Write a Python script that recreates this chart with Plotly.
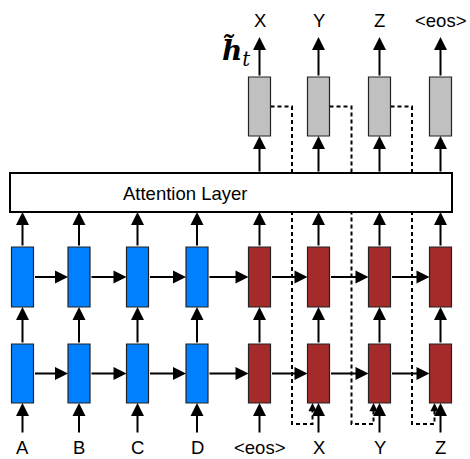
import plotly.graph_objects as go

# ---- data (labels) ----
encoder_inputs = ["A", "B", "C", "D"]
decoder_inputs = ["<eos>", "X", "Y", "Z"]
decoder_outputs = ["X", "Y", "Z", "<eos>"]
attention_label = "Attention Layer"
state_label = "<b><i>h̃</i></b><i><sub>t</sub></i>"

# ---- layout constants ----
W, H = 470, 459
enc_x = [22.5, 79, 137.5, 197]
dec_x = [259.5, 318.5, 379.5, 440.5]
box_w = 22
top_row = (247, 307)
bot_row = (344, 403)
gray_row = (77, 136)
att_box = (10, 173, 452, 212)
BLUE = "#0080FF"
RED = "#A52A2A"
GRAY = "#C0C0C0"

shapes = []
annotations = []


def arrow(x0, y0, x1, y1, width=2, size=1.3):
    annotations.append(dict(x=x1, y=y1, ax=x0, ay=y0, xref="x", yref="y",
                            axref="x", ayref="y", showarrow=True, text="",
                            arrowhead=2, arrowsize=size, arrowwidth=width,
                            arrowcolor="black", standoff=0, startstandoff=0))


def box(xc, y0, y1, color):
    shapes.append(dict(type="rect", x0=xc - box_w / 2, x1=xc + box_w / 2,
                       y0=y0, y1=y1, fillcolor=color,
                       line=dict(color="#222222", width=1.2), layer="above"))


all_x = enc_x + dec_x
cols = [(x, BLUE) for x in enc_x] + [(x, RED) for x in dec_x]

# vertical arrows in the stacked LSTM
for x, c in cols:
    arrow(x, 434, x, bot_row[1])          # input -> bottom
    arrow(x, bot_row[0], x, top_row[1])   # bottom -> top
    arrow(x, top_row[0], x, att_box[3])   # top -> attention

# horizontal recurrent arrows
for i in range(len(all_x) - 1):
    for yc in [(top_row[0] + top_row[1]) / 2, (bot_row[0] + bot_row[1]) / 2]:
        arrow(all_x[i] + box_w / 2, yc, all_x[i + 1] - box_w / 2, yc)

# attention -> gray and gray -> outputs
for x in dec_x:
    arrow(x, att_box[1], x, gray_row[1])
    arrow(x, gray_row[0], x, 37)

# dashed input-feeding connections
feed_x = [292, 351.5, 412]
for i, fx in enumerate(feed_x):
    sx = dec_x[i] + box_w / 2
    tx = dec_x[i + 1] - 6
    ym = (gray_row[0] + gray_row[1]) / 2
    shapes.append(dict(type="path",
                       path=f"M {sx} {ym} L {fx} {ym} L {fx} 424 L {tx} 424 L {tx} 410",
                       line=dict(color="black", width=2, dash="4px,3px"), layer="above"))
    arrow(tx, 411, tx, bot_row[1], width=1.5, size=1.1)

# boxes
for x, c in cols:
    box(x, top_row[0], top_row[1], c)
    box(x, bot_row[0], bot_row[1], c)
for x in dec_x:
    box(x, gray_row[0], gray_row[1], GRAY)

shapes.append(dict(type="rect", x0=att_box[0], y0=att_box[1], x1=att_box[2], y1=att_box[3],
                   fillcolor="white", line=dict(color="black", width=2), layer="above"))

txt_font = dict(family="Liberation Sans, Arial", size=18.5, color="black")
annotations.append(dict(x=185, y=193, text=attention_label, showarrow=False,
                        xref="x", yref="y", font=txt_font))
for x, lab in zip(enc_x + dec_x, encoder_inputs + decoder_inputs):
    annotations.append(dict(x=x, y=459, yanchor="bottom", borderpad=0,
                            text=lab.replace("<", "&lt;").replace(">", "&gt;"),
                            showarrow=False, xref="x", yref="y", font=txt_font))
for x, lab in zip(dec_x, decoder_outputs):
    annotations.append(dict(x=x, y=20, text=lab.replace("<", "&lt;").replace(">", "&gt;"),
                            showarrow=False, xref="x", yref="y", font=txt_font))
annotations.append(dict(x=236, y=52, text=state_label, showarrow=False, xref="x", yref="y",
                        font=dict(family="DejaVu Serif", size=28, color="black")))

fig = go.Figure()
fig.update_layout(width=W, height=H, margin=dict(l=0, r=0, t=0, b=0),
                  paper_bgcolor="white", plot_bgcolor="white",
                  xaxis=dict(range=[0, W], visible=False, fixedrange=True),
                  yaxis=dict(range=[H, 0], visible=False, fixedrange=True),
                  shapes=shapes, annotations=annotations, showlegend=False)
fig.write_html("out.html", config=dict(displayModeBar=False),
               post_script="document.body.style.margin='0';document.body.style.padding='0';document.body.style.overflow='hidden';")
